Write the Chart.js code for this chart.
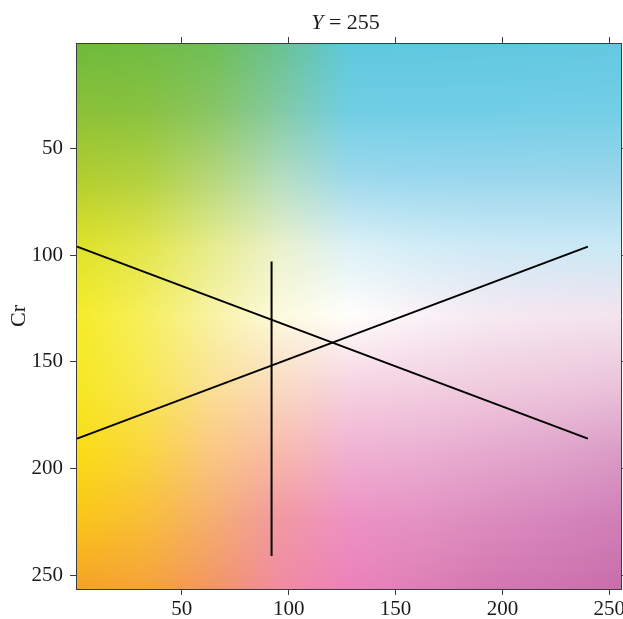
<!DOCTYPE html>
<html>
<head>
<meta charset="utf-8">
<script src="https://cdn.jsdelivr.net/npm/chart.js@4.4.1/dist/chart.umd.min.js"></script>
<style>
  html, body { margin: 0; padding: 0; background: #fff; }
  #wrap { width: 623px; height: 619px; }
</style>
</head>
<body>
<div id="wrap"><canvas id="chart" width="623" height="619"></canvas></div>
<script>
// ticks on both axes
const cbTicks = [50, 100, 150, 200, 250];
const crTicks = [50, 100, 150, 200, 250];

// boundary lines in (Cb, Cr)
const crossCb = [1, 240];
const fallingCr = [96, 186];
const risingCr = [186, 96];
const splitCb = [92, 92];
const splitCr = [103, 241];

// colour of the CbCr plane: rows are Cr nodes, columns Cb nodes
const cbNodes = [0, 32, 64, 96, 128, 160, 192, 224, 256];
const crNodes = [0, 32, 64, 96, 128, 160, 192, 224, 256];
const planeColors = [
  [[108,186,60],[112,188,66],[110,190,85],[104,194,145],[95,200,220],[95,200,224],[96,200,224],[98,200,225],[100,200,226]],
  [[138,193,55],[137,194,64],[136,197,100],[130,202,165],[112,206,228],[112,206,230],[112,206,230],[114,206,230],[115,206,230]],
  [[178,206,45],[178,209,64],[182,215,122],[180,222,192],[158,217,236],[154,216,238],[154,215,237],[154,215,236],[154,214,236]],
  [[222,226,40],[226,229,74],[230,236,142],[234,241,205],[220,241,246],[210,237,246],[205,234,246],[203,233,246],[203,233,246]],
  [[245,236,40],[246,239,92],[248,243,165],[252,250,222],[255,255,252],[250,243,247],[246,234,242],[244,230,240],[243,228,238]],
  [[246,232,34],[248,232,82],[250,226,150],[250,220,194],[246,213,226],[243,210,226],[240,205,223],[238,201,221],[235,196,219]],
  [[250,220,20],[250,214,62],[250,200,130],[248,186,172],[240,178,210],[235,176,210],[230,170,206],[224,164,203],[218,156,198]],
  [[250,198,22],[248,190,55],[245,174,112],[241,152,162],[237,145,195],[228,146,195],[220,140,190],[214,134,188],[208,126,183]],
  [[245,162,36],[245,163,56],[242,150,100],[240,140,162],[236,130,186],[222,128,182],[212,120,177],[206,116,175],[200,110,170]],
];

const AXIS = '#3c3c3c';
const TEXT = '#1a1a1a';
const SERIF = '"Liberation Serif", "Times New Roman", serif';
const tickFont = { family: SERIF, size: 21 };

function findCell(nodes, v) {
  let i = 0;
  while (i < nodes.length - 2 && v > nodes[i + 1]) i++;
  const t = Math.min(Math.max((v - nodes[i]) / (nodes[i + 1] - nodes[i]), 0), 1);
  return [i, t];
}

function samplePlane(cb, cr) {
  const [i, u] = findCell(cbNodes, cb);
  const [j, v] = findCell(crNodes, cr);
  const a = planeColors[j][i], b = planeColors[j][i + 1];
  const c = planeColors[j + 1][i], d = planeColors[j + 1][i + 1];
  const out = [0, 0, 0];
  for (let k = 0; k < 3; k++) {
    const top = a[k] + (b[k] - a[k]) * u;
    const bot = c[k] + (d[k] - c[k]) * u;
    out[k] = Math.round(top + (bot - top) * v);
  }
  return out;
}

let planeCache = null;

const planeBackground = {
  id: 'planeBackground',
  beforeDraw(chart) {
    const { ctx, chartArea, scales } = chart;
    const left = Math.round(chartArea.left);
    const top = Math.round(chartArea.top);
    const w = Math.round(chartArea.right) - left;
    const h = Math.round(chartArea.bottom) - top;
    if (!planeCache || planeCache.width !== w || planeCache.height !== h) {
      planeCache = document.createElement('canvas');
      planeCache.width = w;
      planeCache.height = h;
      const octx = planeCache.getContext('2d');
      const img = octx.createImageData(w, h);
      for (let y = 0; y < h; y++) {
        const cr = scales.y.getValueForPixel(top + y + 0.5);
        for (let x = 0; x < w; x++) {
          const cb = scales.x.getValueForPixel(left + x + 0.5);
          const col = samplePlane(cb, cr);
          const k = (y * w + x) * 4;
          img.data[k] = col[0];
          img.data[k + 1] = col[1];
          img.data[k + 2] = col[2];
          img.data[k + 3] = 255;
        }
      }
      octx.putImageData(img, 0, 0);
    }
    ctx.drawImage(planeCache, left, top);
  }
};

const planeTitle = {
  id: 'planeTitle',
  afterDraw(chart) {
    const { ctx, chartArea } = chart;
    ctx.save();
    const italic = `italic 22px ${SERIF}`;
    const upright = `22px ${SERIF}`;
    ctx.font = italic;
    const w1 = ctx.measureText('Y').width;
    ctx.font = upright;
    const w2 = ctx.measureText(' = 255').width;
    const cx = (chartArea.left + chartArea.right) / 2 - 3;
    const x = cx - (w1 + w2) / 2;
    ctx.fillStyle = TEXT;
    ctx.textBaseline = 'alphabetic';
    ctx.font = italic;
    ctx.fillText('Y', x, 29);
    ctx.font = upright;
    ctx.fillText(' = 255', x + w1, 29);
    ctx.restore();
  }
};

function pairs(xs, ys) {
  return xs.map((x, i) => ({ x, y: ys[i] }));
}

const lineStyle = {
  borderColor: '#000',
  borderWidth: 2,
  pointRadius: 0,
  showLine: true,
  fill: false,
};

const hGrid = { drawOnChartArea: false, drawTicks: true, tickLength: 6, color: AXIS, lineWidth: 1 };

new Chart(document.getElementById('chart'), {
  type: 'scatter',
  plugins: [planeBackground, planeTitle],
  data: {
    datasets: [
      { ...lineStyle, data: pairs(crossCb, fallingCr) },
      { ...lineStyle, data: pairs(crossCb, risingCr) },
      { ...lineStyle, data: pairs(splitCb, splitCr) },
    ],
  },
  options: {
    responsive: false,
    animation: false,
    events: [],
    layout: { padding: 0 },
    plugins: { legend: { display: false }, tooltip: { enabled: false }, title: { display: false } },
    scales: {
      x: {
        type: 'linear',
        position: 'bottom',
        min: 0.5,
        max: 255.5,
        afterBuildTicks: s => { s.ticks = cbTicks.map(v => ({ value: v })); },
        afterFit: s => { s.height = 30; s.paddingLeft = 0; s.paddingRight = 0; },
        grid: hGrid,
        border: { display: true, color: AXIS, width: 1 },
        ticks: { color: TEXT, font: tickFont, padding: 2, maxRotation: 0, autoSkip: false },
      },
      xTop: {
        type: 'linear',
        position: 'top',
        min: 0.5,
        max: 255.5,
        afterBuildTicks: s => { s.ticks = cbTicks.map(v => ({ value: v })); },
        afterFit: s => { s.height = 43; s.paddingLeft = 0; s.paddingRight = 0; },
        grid: hGrid,
        border: { display: true, color: AXIS, width: 1 },
        ticks: { display: false },
      },
      y: {
        type: 'linear',
        position: 'left',
        reverse: true,
        min: 0.5,
        max: 256.5,
        afterBuildTicks: s => { s.ticks = crTicks.map(v => ({ value: v })); },
        afterFit: s => { s.width = 76; s.paddingTop = 0; s.paddingBottom = 0; },
        grid: hGrid,
        border: { display: true, color: AXIS, width: 1 },
        ticks: { color: TEXT, font: tickFont, padding: 7, autoSkip: false },
        title: { display: true, text: 'Cr', color: TEXT, font: { family: SERIF, size: 22, lineHeight: 1 }, padding: { top: 8, bottom: 0 } },
      },
      yRight: {
        type: 'linear',
        position: 'right',
        reverse: true,
        min: 0.5,
        max: 256.5,
        afterBuildTicks: s => { s.ticks = crTicks.map(v => ({ value: v })); },
        afterFit: s => { s.width = 2; s.paddingTop = 0; s.paddingBottom = 0; },
        grid: { ...hGrid, tickLength: 2 },
        border: { display: true, color: AXIS, width: 1 },
        ticks: { display: false },
      },
    },
  },
});
</script>
</body>
</html>
